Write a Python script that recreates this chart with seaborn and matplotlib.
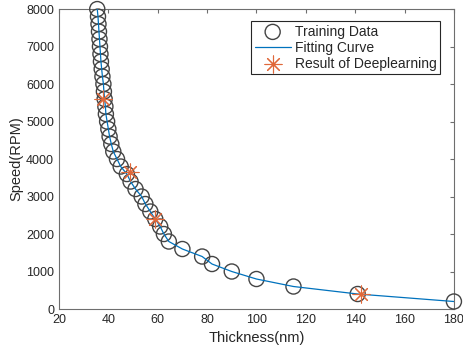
import numpy as np
import pandas as pd
import seaborn as sns
import matplotlib.pyplot as plt

# training data (speed in RPM, thickness in nm)
speed = [200, 400, 600, 800, 1000, 1200, 1400, 1600, 1800, 2000,
         2200, 2400, 2600, 2800, 3000, 3200, 3400, 3600, 3800, 4000,
         4200, 4400, 4600, 4800, 5000, 5200, 5400, 5600, 5800, 6000,
         6200, 6400, 6600, 6800, 7000, 7200, 7400, 7600, 7800, 8000]
thickness = [180, 141, 115, 100, 90, 82, 78, 70, 64.5, 62.5,
             61, 59, 57, 55, 53.5, 51, 49, 47.5, 45, 43.5,
             42, 41.2, 40.5, 40, 39.5, 39, 38.8, 38.5, 38.2, 38,
             37.6, 37.3, 37, 36.8, 36.6, 36.4, 36.2, 36, 35.8, 35.5]

# deep learning predictions
dl_thickness = [38, 48.7, 58.9, 142.5]
dl_speed = [5600, 3650, 2400, 400]

train = pd.DataFrame({'Thickness': thickness, 'Speed': speed})
dl = pd.DataFrame({'Thickness': dl_thickness, 'Speed': dl_speed})

sns.set_style('white')
plt.rcParams['font.family'] = ['Liberation Sans', 'DejaVu Sans']
plt.rcParams['axes.edgecolor'] = '#6e6e6e'
plt.rcParams['axes.linewidth'] = 0.8

fig = plt.figure(figsize=(4.63, 3.49), dpi=100)
ax = fig.add_axes([0.1274, 0.1146, 0.853, 0.8594])

sns.scatterplot(data=train, x='Thickness', y='Speed', marker='o', s=118,
                facecolors='none', edgecolor='#444444', linewidth=1.0,
                label='Training Data', ax=ax, clip_on=False, zorder=3)
sns.lineplot(data=train, x='Thickness', y='Speed', color='#0072BD',
             linewidth=0.9, label='Fitting Curve', ax=ax, zorder=4)
sns.scatterplot(data=dl, x='Thickness', y='Speed', marker=(8, 2, 0), s=150,
                color='#E0683A', edgecolor='#E0683A', linewidth=0.8,
                label='Result of Deeplearning', ax=ax, zorder=5)

ax.set_xlim(20, 180)
ax.set_ylim(0, 8000)
ax.set_xticks(np.arange(20, 181, 20))
ax.set_yticks(np.arange(0, 8001, 1000))
ax.tick_params(direction='in', length=3, width=0.8, colors='#6e6e6e',
               labelcolor='#262626', labelsize=9, top=True, right=True)
ax.set_xlabel('Thickness(nm)', fontsize=10.5, color='#262626')
ax.set_ylabel('Speed(RPM)', fontsize=10.5, color='#262626', labelpad=2)

leg = ax.legend(loc='upper right', bbox_to_anchor=(0.965, 0.96),
                borderaxespad=0, fontsize=10, fancybox=False, framealpha=1,
                edgecolor='#262626', handlelength=2.6, handletextpad=0.3,
                borderpad=0.25, labelspacing=0.15)
leg.get_frame().set_linewidth(0.8)

fig.savefig('out.png', dpi=100)
